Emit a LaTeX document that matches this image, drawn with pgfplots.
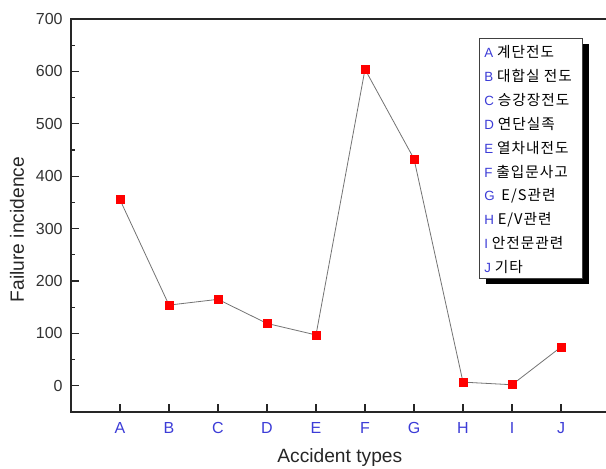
\documentclass[border=0pt]{standalone}
\usepackage{pgfplots}
\pgfplotsset{compat=1.18}
\usepackage{fontspec}
\setmainfont{Liberation Sans}
\newfontfamily\kr[LetterSpace=7]{Noto Sans CJK KR}
\usetikzlibrary{shadows}
\definecolor{tickblue}{RGB}{60,60,215}
\definecolor{linegray}{RGB}{115,115,115}
\begin{document}
\begin{tikzpicture}
\begin{axis}[
  name=ax,
  scale only axis,
  width=404.25pt, height=294.75pt,
  xmin=0, xmax=11, ymin=-50, ymax=700,
  xtick={1,2,3,4,5,6,7,8,9,10},
  xticklabels={A,B,C,D,E,F,G,H,I,J},
  ytick={0,100,200,300,400,500,600,700},
  minor y tick num=1,
  tick align=inside, tick pos=left,
  major tick length=6pt, minor tick length=3pt,
  axis line style={line width=0.8pt, black!85},
  every tick/.style={black!85, line width=0.8pt},
  tick label style={font=\fontsize{12}{14}\selectfont},
  xticklabel style={text=tickblue, yshift=-4pt},
  yticklabel style={text=black!80, xshift=-2.75pt},
  /pgf/number format/assume math mode=true,
  xlabel={Accident types}, ylabel={Failure incidence},
  label style={font=\fontsize{14.4}{17}\selectfont, text=black!85},
  xlabel style={at={(axis description cs:0.4987,-0.1158)}, anchor=center},
  ylabel style={at={(axis description cs:-0.1002,0.4644)}, anchor=center},
]
\addplot[color=linegray, line width=0.6pt, mark=square*, mark size=3pt,
  mark options={fill=red, draw=red, solid}]
  coordinates {(1,355)(2,154)(3,165)(4,119)(5,97)(6,604)(7,433)(8,7)(9,2)(10,74)};
\node[draw=black!75, line width=0.6pt, fill=white, anchor=north west,
  minimum width=77.25pt, minimum height=180pt, inner sep=0pt,
  drop shadow={fill=black, opacity=1, shadow xshift=4.5pt, shadow yshift=-4.5pt}]
  (lg) at (axis cs:8.33,664) {};
\end{axis}
\begin{scope}[every node/.style={anchor=base west, inner sep=0pt, font=\fontsize{10}{12}\selectfont}]
\node at ([xshift=3.75pt,yshift=-14.7pt]lg.north west) {{\color{tickblue}A} {\kr\fontsize{11}{13}\selectfont 계단전도}};
\node at ([xshift=3.75pt,yshift=-32.6pt]lg.north west) {{\color{tickblue}B} {\kr\fontsize{11}{13}\selectfont 대합실 전도}};
\node at ([xshift=3.75pt,yshift=-50.6pt]lg.north west) {{\color{tickblue}C} {\kr\fontsize{11}{13}\selectfont 승강장전도}};
\node at ([xshift=3.75pt,yshift=-68.5pt]lg.north west) {{\color{tickblue}D} {\kr\fontsize{11}{13}\selectfont 연단실족}};
\node at ([xshift=3.75pt,yshift=-86.4pt]lg.north west) {{\color{tickblue}E} {\kr\fontsize{11}{13}\selectfont 열차내전도}};
\node at ([xshift=3.75pt,yshift=-104.4pt]lg.north west) {{\color{tickblue}F} {\kr\fontsize{11}{13}\selectfont 출입문사고}};
\node at ([xshift=3.75pt,yshift=-122.3pt]lg.north west) {{\color{tickblue}G}\enspace{\kr\fontsize{11}{13}\selectfont E/S관련}};
\node at ([xshift=3.75pt,yshift=-140.2pt]lg.north west) {{\color{tickblue}H} {\kr\fontsize{11}{13}\selectfont E/V관련}};
\node at ([xshift=3.75pt,yshift=-158.1pt]lg.north west) {{\color{tickblue}I} {\kr\fontsize{11}{13}\selectfont 안전문관련}};
\node at ([xshift=3.75pt,yshift=-176.1pt]lg.north west) {{\color{tickblue}J} {\kr\fontsize{11}{13}\selectfont 기타}};
\end{scope}
\pgfresetboundingbox
\path[use as bounding box] ([xshift=-53.25pt,yshift=-42.75pt]ax.south west) rectangle ([xshift=401.25pt,yshift=14.25pt]ax.north west);
\end{tikzpicture}
\end{document}
